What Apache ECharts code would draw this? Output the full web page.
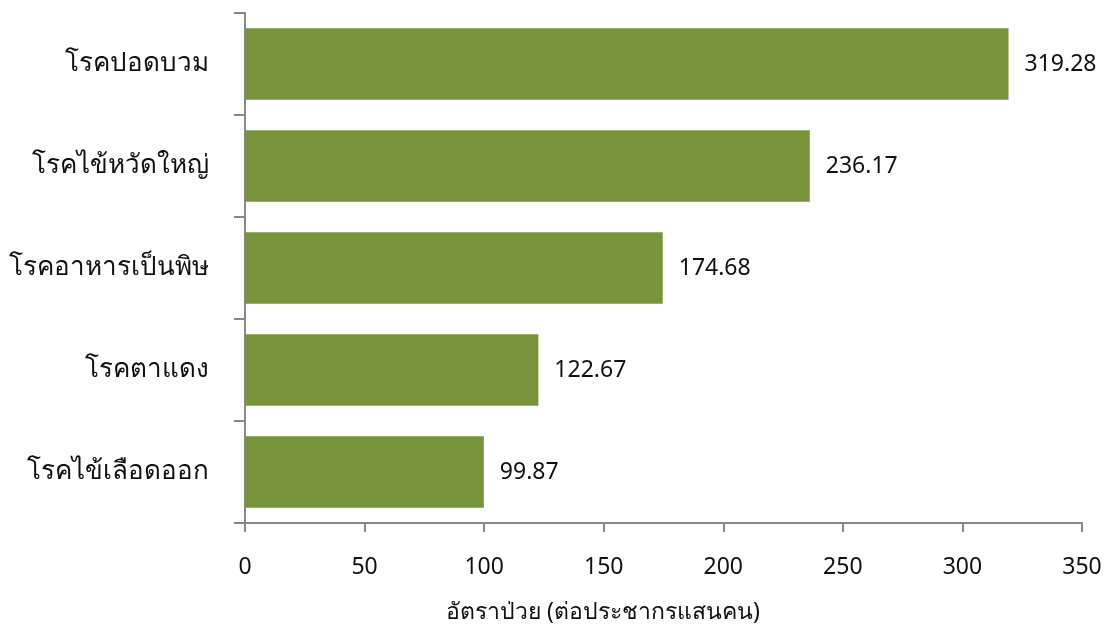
<!DOCTYPE html>
<html><head><meta charset="utf-8">
<script src="https://cdn.jsdelivr.net/npm/echarts@6/dist/echarts.min.js"></script>
<style>html,body{margin:0;padding:0;background:#fff}#c{width:1109px;height:633px}</style>
</head><body><div id="c"></div>
<script>
const categories = ['โรคไข้เลือดออก','โรคตาแดง','โรคอาหารเป็นพิษ','โรคไข้หวัดใหญ่','โรคปอดบวม'];
const values = [99.87, 122.67, 174.68, 236.17, 319.28];
const xAxisName = 'อัตราป่วย (ต่อประชากรแสนคน)';
const chart = echarts.init(document.getElementById('c'), null, {renderer:'canvas'});
const font = 'Tahoma, "Noto Sans", sans-serif';
chart.setOption({
  animation:false,
  title:{text:xAxisName,left:446,top:601,padding:0,
    textStyle:{fontSize:23,fontWeight:'normal',color:'#111',fontFamily:font}},
  grid:{left:245,right:27,top:13,bottom:110,containLabel:false,outerBoundsMode:'none'},
  xAxis:{type:'value',min:0,max:350,interval:50,
    axisLine:{show:true,lineStyle:{color:'#898989',width:2}},
    axisTick:{show:true,length:9,lineStyle:{color:'#898989',width:2}},
    axisLabel:{fontSize:23,color:'#111',margin:33,fontFamily:font},
    splitLine:{show:false}},
  yAxis:{type:'category',data:categories,
    axisLine:{show:true,lineStyle:{color:'#898989',width:2}},
    axisTick:{show:true,length:11,lineStyle:{color:'#898989',width:2}},
    axisLabel:{fontSize:26,color:'#111',margin:36,fontFamily:font}},
  series:[{type:'bar',data:values,barWidth:'70%',
    itemStyle:{color:'#77933C'},
    label:{show:true,position:'right',distance:16,fontSize:23,color:'#111',fontFamily:font,
      formatter:p=>p.value.toFixed(2)}}]
});
</script></body></html>
